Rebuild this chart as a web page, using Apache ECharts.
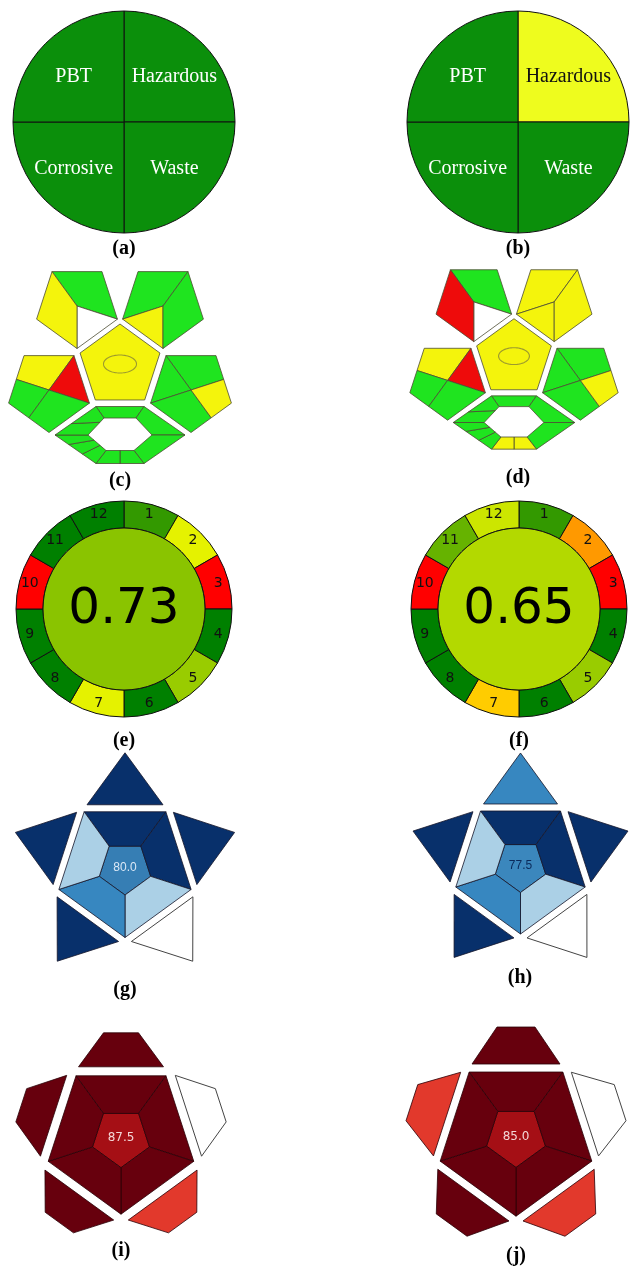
<!DOCTYPE html>
<html>
<head>
<meta charset="utf-8">
<script src="https://cdn.jsdelivr.net/npm/echarts@6/dist/echarts.min.js"></script>
<style>
  html, body { margin: 0; padding: 0; background: #ffffff; }
  #chart { width: 630px; height: 1269px; }
</style>
</head>
<body>
<div id="chart"></div>
<script>
// ---------------------------------------------------------------
// Data
// ---------------------------------------------------------------

// NEMI quadrants, clockwise from the top-right quadrant
const nemiFields = ['Hazardous', 'Waste', 'Corrosive', 'PBT'];
const nemiA = ['pass', 'pass', 'pass', 'pass'];
const nemiB = ['warn', 'pass', 'pass', 'pass'];

// AGREE criteria 1-12 (clockwise from the top), weights and scores
const agreeCriteria = ['1', '2', '3', '4', '5', '6', '7', '8', '9', '10', '11', '12'];
const agreeWeights = [2, 2, 2, 2, 2, 2, 2, 2, 2, 2, 2, 2];
const agreeE = [0.9, 0.55, 0, 1, 0.7, 1, 0.55, 1, 1, 0, 1, 1];
const agreeF = [0.9, 0.3, 0, 1, 0.7, 1, 0.4, 1, 1, 0, 0.8, 0.6];
const agreeTotalE = 0.73;
const agreeTotalF = 0.65;

// GAPI fields, grouped by block: centre, upper left, upper right, left, right, bottom ring
// g = green, y = yellow, r = red, w = white
const gapiBlocks = ['centre', 'upper left', 'upper right', 'left', 'right', 'ring'];
const gapiC = [
  ['y'],
  ['g', 'w', 'y'],
  ['g', 'y', 'g'],
  ['y', 'r', 'g', 'g'],
  ['g', 'g', 'g', 'y'],
  ['g', 'g', 'g', 'g', 'g', 'g', 'g', 'g', 'g', 'g']
];
const gapiD = [
  ['y'],
  ['g', 'w', 'r'],
  ['y', 'y', 'y'],
  ['y', 'r', 'g', 'g'],
  ['g', 'g', 'g', 'y'],
  ['g', 'g', 'g', 'y', 'y', 'g', 'g', 'g', 'g', 'g']
];

// Star pictograms: edges clockwise from the top
const starEdges = ['top', 'upper right', 'lower right', 'lower left', 'upper left'];
// blue levels: 0 white, 1 light, 2 medium, 3 dark
const bandsG = [3, 3, 1, 2, 1];
const tipsG = [3, 3, 0, 3, 3];
const scoreG = 80.0;
const bandsH = [3, 3, 1, 2, 1];
const tipsH = [2, 3, 0, 3, 3];
const scoreH = 77.5;
// red levels: 0 white, 1 red, 2 dark red
const bandsI = [2, 2, 2, 2, 2];
const tipsI = [2, 0, 1, 2, 2];
const scoreI = 87.5;
const bandsJ = [2, 2, 2, 2, 2];
const tipsJ = [2, 0, 1, 2, 1];
const scoreJ = 85.0;

const panelLabels = ['(a)', '(b)', '(c)', '(d)', '(e)', '(f)', '(g)', '(h)', '(i)', '(j)'];

// ---------------------------------------------------------------
// Palettes and helpers
// ---------------------------------------------------------------
const W = 630, H = 1269;
const nemiFill = { pass: '#0b8f0b', warn: '#eefc1e' };
const nemiText = { pass: '#ffffff', warn: '#111111' };
const gapiFill = { g: '#1fe41f', y: '#f4f40c', r: '#ee0b0b', w: '#ffffff' };
const bluePalette = ['#ffffff', '#abd0e6', '#3787c0', '#08306b'];
const redPalette = ['#ffffff', '#e2392c', '#67000d'];

const rad = d => d * Math.PI / 180;
const polar = (cx, cy, r, deg) => [cx + r * Math.cos(rad(deg)), cy + r * Math.sin(rad(deg))];
const lerp = (a, b, t) => [a[0] + (b[0] - a[0]) * t, a[1] + (b[1] - a[1]) * t];
const mid = (a, b) => lerp(a, b, 0.5);
const hex2 = v => Math.round(Math.max(0, Math.min(255, v))).toString(16).padStart(2, '0');
const rgb = (r, g, b) => '#' + hex2(r) + hex2(g) + hex2(b);

// red -> yellow -> green scale used by AGREE
function agreeColour(s) {
  if (s <= 0.5) return rgb(255, 255 * s * 2, 0);
  const t = (s - 0.5) / 0.5;
  return rgb(255 * (1 - t), 255 * (1 - 0.5 * t), 0);
}

// blue ramp for the star centre
function blueRamp(v) {
  const stops = [[0, [247, 251, 255]], [50, [171, 208, 230]], [75, [65, 145, 198]], [100, [8, 48, 107]]];
  for (let i = 1; i < stops.length; i++) {
    if (v <= stops[i][0]) {
      const t = (v - stops[i - 1][0]) / (stops[i][0] - stops[i - 1][0]);
      const a = stops[i - 1][1], b = stops[i][1];
      return rgb(a[0] + (b[0] - a[0]) * t, a[1] + (b[1] - a[1]) * t, a[2] + (b[2] - a[2]) * t);
    }
  }
  return rgb(8, 48, 107);
}

// Pentagon with a flat top edge: TL, TR, R, B, L
const flatPentagon = (cx, cy, r) => [0, 1, 2, 3, 4].map(i => polar(cx, cy, r, 234 + 72 * i));
// Pentagon with a vertex on top: T, UR, LR, LL, UL
const pointyPentagon = (cx, cy, r) => [0, 1, 2, 3, 4].map(i => polar(cx, cy, r, -90 + 72 * i));

// ---------------------------------------------------------------
// GAPI outline, in units relative to the centre pentagon
// ---------------------------------------------------------------
function gapiOutline() {
  const TL = 0, TR = 1, R = 2, B = 3, L = 4;
  const centre = pointyPentagon(0, 0, 42);
  const ulC = [-43, -60], urC = [43, -60], lfC = [-71, 24], rtC = [71, 24];
  const ul = flatPentagon(ulC[0], ulC[1], 42.5);
  const ur = flatPentagon(urC[0], urC[1], 42.5);
  const lf = flatPentagon(lfC[0], lfC[1], 42.5);
  const rt = flatPentagon(rtC[0], rtC[1], 42.5);
  const ry = 69;
  const o = [[-24, -28.5], [24, -28.5], [65, 0], [24, 28.5], [-24, 28.5], [-65, 0]].map(p => [p[0], p[1] + ry]);
  const n = [[-16, -17], [16, -17], [32, 0], [14, 15.5], [-14, 15.5], [-32, 0]].map(p => [p[0], p[1] + ry]);
  const oBm = mid(o[3], o[4]), nBm = mid(n[3], n[4]);
  const oLL1 = lerp(o[4], o[5], 1 / 3), oLL2 = lerp(o[4], o[5], 2 / 3);
  const nLL1 = lerp(n[4], n[5], 1 / 3), nLL2 = lerp(n[4], n[5], 2 / 3);
  const oUL = lerp(o[5], o[0], 0.4), nUL = lerp(n[5], n[0], 0.75);
  return [
    [centre],
    [[ul[TL], ul[TR], ul[R], ulC], [ul[R], ul[B], ulC], [ul[B], ul[L], ul[TL], ulC]],
    [[ur[TR], ur[TL], ur[L], urC], [ur[L], ur[B], urC], [ur[B], ur[R], ur[TR], urC]],
    [
      [lf[TL], lf[TR], lfC, mid(lf[TL], lf[L])],
      [lf[TR], lf[R], lfC],
      [mid(lf[TL], lf[L]), lfC, mid(lf[L], lf[B]), lf[L]],
      [lfC, lf[R], lf[B], mid(lf[L], lf[B])]
    ],
    [
      [rt[TL], rt[TR], mid(rt[TR], rt[R]), rtC],
      [rt[TL], rtC, rt[L]],
      [rt[L], rtC, mid(rt[R], rt[B]), rt[B]],
      [rtC, mid(rt[TR], rt[R]), rt[R], mid(rt[R], rt[B])]
    ],
    [
      [o[0], o[1], n[1], n[0]],
      [o[1], o[2], n[2], n[1]],
      [o[2], o[3], n[3], n[2]],
      [o[3], oBm, nBm, n[3]],
      [oBm, o[4], n[4], nBm],
      [o[4], oLL1, nLL1, n[4]],
      [oLL1, oLL2, nLL2, nLL1],
      [oLL2, o[5], n[5], nLL2],
      [o[5], oUL, nUL, n[5]],
      [oUL, o[0], n[0], nUL]
    ]
  ];
}
const GAPI_OUTLINE = gapiOutline();

function gapiSeries(levels, anchor, scale) {
  const items = [];
  levels.forEach((blk, b) => blk.forEach((lv, f) => items.push({ b, f, lv })));
  const toPx = (api, p) => api.coord([anchor[0] + p[0] * scale, anchor[1] + p[1] * scale]);
  return {
    type: 'custom',
    coordinateSystem: 'cartesian2d',
    silent: true,
    data: items.map(it => [it.b, it.f]),
    renderItem(params, api) {
      const it = items[params.dataIndex];
      const poly = {
        type: 'polygon',
        shape: { points: GAPI_OUTLINE[it.b][it.f].map(p => toPx(api, p)) },
        style: { fill: gapiFill[it.lv], stroke: '#4d4d33', lineWidth: 0.8 }
      };
      if (it.b !== 0) return poly;
      const ring = [];
      for (let k = 0; k < 64; k++) {
        const a = (k / 64) * Math.PI * 2;
        ring.push(toPx(api, [16.5 * Math.cos(a), -2 + 9 * Math.sin(a)]));
      }
      return {
        type: 'group',
        children: [poly, { type: 'polygon', shape: { points: ring }, style: { fill: 'none', stroke: '#9c9a2e', lineWidth: 1.1 } }]
      };
    }
  };
}

// ---------------------------------------------------------------
// Star / pentagon pictograms
// ---------------------------------------------------------------
function starSeries(cfg) {
  const items = [{ kind: 0, i: 0 }];
  starEdges.forEach((e, i) => items.push({ kind: 1, i }));
  starEdges.forEach((e, i) => items.push({ kind: 2, i }));
  return {
    type: 'custom',
    coordinateSystem: 'cartesian2d',
    silent: true,
    data: items.map(it => [it.kind, it.i]),
    renderItem(params, api) {
      const it = items[params.dataIndex];
      const outer = flatPentagon(cfg.cx, cfg.cy, cfg.R);
      const inner = flatPentagon(cfg.cx, cfg.cy, cfg.r);
      const px = p => api.coord(p);
      const stroke = cfg.stroke;
      if (it.kind === 0) {
        const pts = inner.map(px);
        const c = px([cfg.cx, cfg.cy]);
        return {
          type: 'group',
          children: [
            { type: 'polygon', shape: { points: pts }, style: { fill: cfg.centreFill, stroke, lineWidth: 0.8 } },
            {
              type: 'text', x: c[0], y: c[1],
              style: {
                text: cfg.score.toFixed(1), fill: cfg.textFill, fontSize: 12, fontFamily: cfg.font,
                align: 'center', verticalAlign: 'middle', textAlign: 'center', textVerticalAlign: 'middle'
              }
            }
          ]
        };
      }
      const i = it.i, j = (i + 1) % 5;
      if (it.kind === 1) {
        return {
          type: 'polygon',
          shape: { points: [outer[i], outer[j], inner[j], inner[i]].map(px) },
          style: { fill: cfg.palette[cfg.bands[i]], stroke, lineWidth: 0.8 }
        };
      }
      const phi = rad(270 + 72 * i);
      const nx = Math.cos(phi), ny = Math.sin(phi);
      const tx = -ny, ty = nx;
      const d0 = cfg.R * Math.cos(rad(36)) + cfg.gap;
      const d1 = d0 + cfg.h;
      const at = (d, w) => [cfg.cx + nx * d + tx * w, cfg.cy + ny * d + ty * w];
      const pts = cfg.ho > 0
        ? [at(d0, -cfg.hb), at(d0, cfg.hb), at(d1, cfg.ho), at(d1, -cfg.ho)]
        : [at(d0, -cfg.hb), at(d0, cfg.hb), at(d1, 0)];
      const lv = cfg.tips[i];
      return {
        type: 'polygon',
        shape: { points: pts.map(px) },
        style: { fill: cfg.palette[lv], stroke: lv === 0 ? '#444444' : stroke, lineWidth: lv === 0 ? 1 : 0.8 }
      };
    }
  };
}

// ---------------------------------------------------------------
// Pie based panels
// ---------------------------------------------------------------
function nemiSeries(levels, centre, radius) {
  return [
    {
      type: 'pie', center: centre, radius: [0, radius], startAngle: 90, clockwise: true, silent: true,
      label: { show: false }, labelLine: { show: false },
      itemStyle: { borderColor: '#111111', borderWidth: 1 },
      data: nemiFields.map((f, i) => ({ name: f, value: 1, itemStyle: { color: nemiFill[levels[i]] } }))
    },
    {
      // label layer: names sit a little closer to the horizontal divider
      type: 'pie', center: centre, radius: [0, radius * 1.23], startAngle: 90, clockwise: true, silent: true,
      labelLine: { show: false },
      itemStyle: { color: 'transparent', borderWidth: 0 },
      label: { show: true, position: 'inside', formatter: '{b}', fontFamily: 'Liberation Serif', fontSize: 20 },
      data: nemiFields.map((f, i) => ({
        name: f, value: 1,
        label: { color: nemiText[levels[i]], offset: [0, (i === 0 || i === 3) ? 5 : -4] }
      }))
    }
  ];
}

function agreeSeries(scores, total, centre) {
  return [
    {
      type: 'pie', center: centre, radius: [81, 108], startAngle: 90, clockwise: true, silent: true,
      labelLine: { show: false },
      label: { show: true, position: 'inside', formatter: '{b}', fontFamily: 'DejaVu Sans', fontSize: 14, color: '#111111' },
      itemStyle: { borderColor: '#111111', borderWidth: 1 },
      data: agreeCriteria.map((c, i) => ({ name: c, value: agreeWeights[i], itemStyle: { color: agreeColour(scores[i]) } }))
    },
    {
      type: 'pie', center: centre, radius: [0, 81], silent: true,
      labelLine: { show: false },
      label: {
        show: true, position: 'center', formatter: p => p.value.toFixed(2),
        fontFamily: 'DejaVu Sans', fontSize: 50, color: '#000000', offset: [0, 1]
      },
      itemStyle: { borderColor: '#111111', borderWidth: 1 },
      data: [{ name: 'total', value: total, itemStyle: { color: agreeColour(total) } }]
    }
  ];
}

// ---------------------------------------------------------------
// Layout
// ---------------------------------------------------------------
const labelAt = [
  [124, 249], [518, 249], [120, 481], [518, 478], [124, 741],
  [519, 741], [125, 990], [520, 978], [121, 1251], [516, 1256]
];

const blueBase = { palette: bluePalette, stroke: '#15152a', font: 'Liberation Sans', gap: 7, ho: 0 };
const redBase = { palette: redPalette, stroke: '#2a0006', font: 'DejaVu Sans', centreFill: '#a50f15', textFill: '#f3d6d6' };

const series = [
  ...nemiSeries(nemiA, [124, 122], 111),
  ...nemiSeries(nemiB, [518, 122], 111),
  gapiSeries(gapiC, [120, 366], 1),
  gapiSeries(gapiD, [514, 358], 0.935),
  ...agreeSeries(agreeE, agreeTotalE, [124, 609]),
  ...agreeSeries(agreeF, agreeTotalF, [519, 609]),
  starSeries(Object.assign({}, blueBase, {
    cx: 125, cy: 868, R: 69.5, r: 27, hb: 38, h: 52,
    bands: bandsG, tips: tipsG, score: scoreG, centreFill: blueRamp(scoreG), textFill: '#dbe8f6'
  })),
  starSeries(Object.assign({}, blueBase, {
    cx: 520.5, cy: 866, R: 68, r: 26.5, hb: 37, h: 51,
    bands: bandsH, tips: tipsH, score: scoreH, centreFill: blueRamp(scoreH), textFill: '#0b2a5a'
  })),
  starSeries(Object.assign({}, redBase, {
    cx: 121, cy: 1137.7, R: 76.5, r: 30, gap: 9, hb: 42.5, ho: 17.5, h: 34,
    bands: bandsI, tips: tipsI, score: scoreI
  })),
  starSeries(Object.assign({}, redBase, {
    cx: 516, cy: 1136.5, R: 79.7, r: 31, gap: 8, hb: 44, ho: 19, h: 37,
    bands: bandsJ, tips: tipsJ, score: scoreJ
  }))
];

const chart = echarts.init(document.getElementById('chart'), null, { renderer: 'canvas', width: W, height: H });
chart.setOption({
  animation: false,
  backgroundColor: '#ffffff',
  grid: { left: 0, right: 0, top: 0, bottom: 0, containLabel: false },
  xAxis: { type: 'value', min: 0, max: W, show: false },
  yAxis: { type: 'value', min: 0, max: H, inverse: true, show: false },
  graphic: panelLabels.map((t, i) => ({
    type: 'text', x: labelAt[i][0], y: labelAt[i][1], silent: true,
    style: {
      text: t, fill: '#000000', fontSize: 20, fontWeight: 'bold', fontFamily: 'Liberation Serif',
      align: 'center', verticalAlign: 'middle', textAlign: 'center', textVerticalAlign: 'middle'
    }
  })),
  series
});
</script>
</body>
</html>
